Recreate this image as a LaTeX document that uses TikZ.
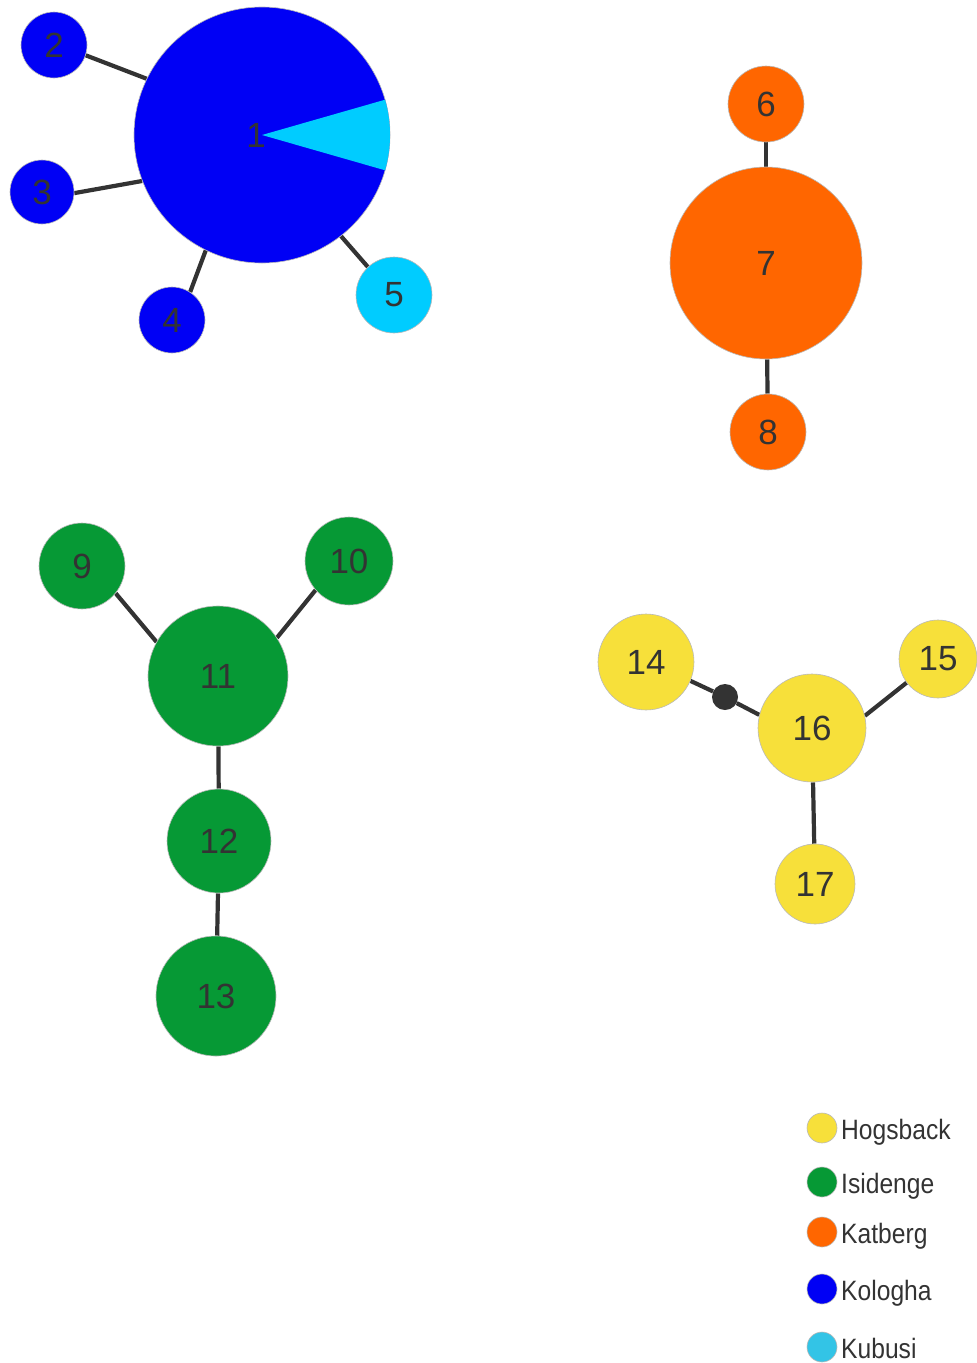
\documentclass[tikz,border=0pt]{standalone}
\usepackage{fontspec}
\setmainfont{Liberation Sans}
\newfontfamily\legfont[FakeStretch=0.88]{Liberation Sans}
\usetikzlibrary{backgrounds}
\definecolor{cblue}{HTML}{0000F5}
\definecolor{clight}{HTML}{00CCFF}
\definecolor{corange}{HTML}{FF6600}
\definecolor{cgreen}{HTML}{069935}
\definecolor{cyellow}{HTML}{F7E03A}
\definecolor{ckub}{HTML}{33C4E6}
\definecolor{ctext}{HTML}{333333}
\definecolor{cedge}{HTML}{333333}
\begin{document}
\begin{tikzpicture}[x=1pt,y=-1pt,
  hap/.style={circle, draw=gray!55, line width=0.6pt, inner sep=0pt, minimum size=#1, text=ctext, font=\fontsize{35}{35}\selectfont},
  edge/.style={draw=cedge, line width=4.2pt},
  leg/.style={circle, draw=gray!55, line width=0.6pt, inner sep=0pt, minimum size=30},
  legtext/.style={anchor=base west, inner sep=0pt, text=ctext, font=\legfont\fontsize{28}{28}\selectfont}]
\useasboundingbox (0,0) rectangle (977,1363);
% nodes
\node[hap=256, fill=cblue] (n1) at (262,135) {};
\fill[clight] (n1.center) -- ++(-16:128) arc[start angle=-16, end angle=16, radius=128] -- cycle;
\node[text=ctext, font=\fontsize{35}{35}\selectfont, inner sep=0pt] (l1) at (256,135) {1};
\node[hap=66, fill=cblue] (n2) at (54,45) {2};
\node[hap=64, fill=cblue] (n3) at (42,192) {3};
\node[hap=66, fill=cblue] (n4) at (172,320) {4};
\node[hap=76, fill=clight] (n5) at (394,295) {5};
\node[hap=76, fill=corange] (n6) at (766,104) {6};
\node[hap=192, fill=corange] (n7) at (766,263) {7};
\node[hap=76, fill=corange] (n8) at (768,432) {8};
\node[hap=86, fill=cgreen] (n9) at (82,566) {9};
\node[hap=88, fill=cgreen] (n10) at (349,561) {10};
\node[hap=140, fill=cgreen] (n11) at (218,676) {11};
\node[hap=104, fill=cgreen] (n12) at (219,841) {12};
\node[hap=120, fill=cgreen] (n13) at (216,996) {13};
\node[hap=96, fill=cyellow] (n14) at (646,662) {14};
\node[hap=78, fill=cyellow] (n15) at (938,659) {15};
\node[hap=108, fill=cyellow] (n16) at (812,728) {16};
\node[hap=80, fill=cyellow] (n17) at (815,884) {17};
\node[circle, fill=cedge, inner sep=0pt, minimum size=26] (dot) at (725,697) {};
% edges
\begin{scope}[on background layer]
\draw[edge] (n1.154.8) -- (n2.-18);
\draw[edge] (n1.201.4) -- (n3.-2);
\draw[edge] (n1.244) -- (n4.57);
\draw[edge] (n1.-52.6) -- (n5.133);
\draw[edge] (n6) -- (n7);
\draw[edge] (n7) -- (n8);
\draw[edge] (n9.-39.3) -- (n11.151.6);
\draw[edge] (n10.221) -- (n11.33.5);
\draw[edge] (n11) -- (n12);
\draw[edge] (n12) -- (n13);
\draw[edge] (n14.-23) -- (dot) -- (n16.166);
\draw[edge] (n15.217.7) -- (n16.13.8);
\draw[edge] (n16) -- (n17);
\end{scope}
% legend
\node[leg, fill=cyellow] (g1) at (822,1128) {};
\node[legtext] (t1) at (841,1139) {Hogsback};
\node[leg, fill=cgreen] (g2) at (822,1182) {};
\node[legtext] (t2) at (841,1193) {Isidenge};
\node[leg, fill=corange] (g3) at (822,1232) {};
\node[legtext] (t3) at (841,1243) {Katberg};
\node[leg, fill=cblue] (g4) at (822,1289) {};
\node[legtext] (t4) at (841,1300) {Kologha};
\node[leg, fill=ckub] (g5) at (822,1347) {};
\node[legtext] (t5) at (841,1358) {Kubusi};
\end{tikzpicture}
\end{document}
